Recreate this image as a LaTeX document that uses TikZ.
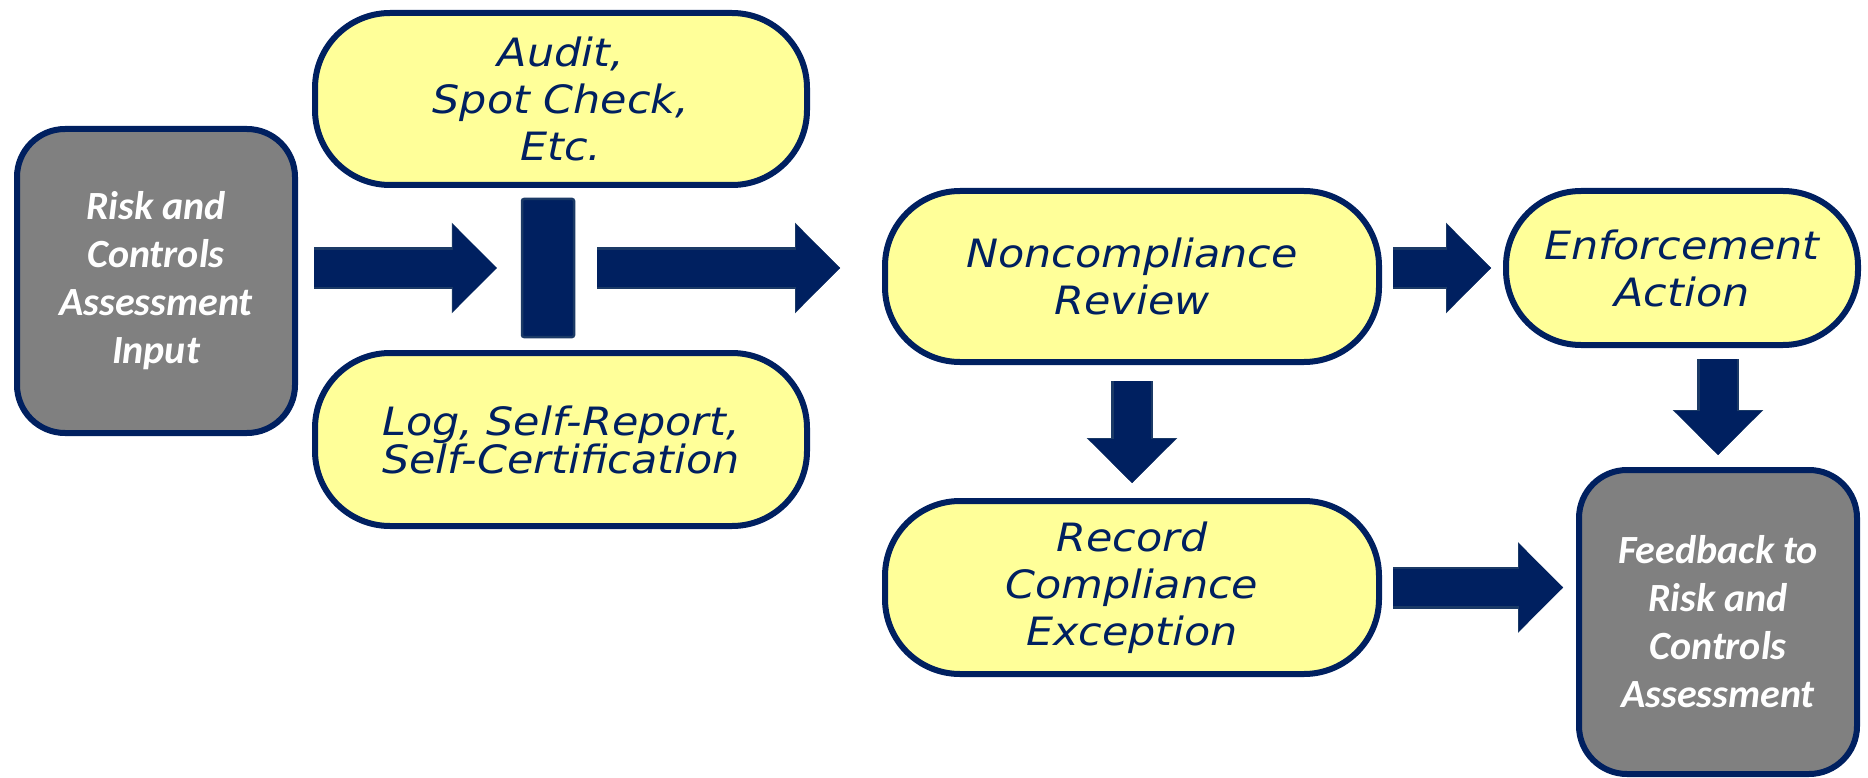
\documentclass[tikz,border=0pt]{standalone}
\usepackage{fontspec}
\usepackage{tikz}
\usetikzlibrary{arrows.meta,positioning}
\newfontfamily\stepfont{DejaVu Sans}[FakeStretch=1.1]
\newfontfamily\inputfont{Carlito}
\definecolor{navy}{HTML}{002060}
\definecolor{navyedge}{HTML}{1B3A66}
\definecolor{paleyellow}{HTML}{FFFF99}
\definecolor{boxgray}{HTML}{808080}

\begin{document}
\begin{tikzpicture}[
      x=1pt, y=-1pt,
      >={Triangle[length=44pt,width=87pt,line width=0pt,color=navy,fill=navy]},
      box/.style={draw=navy, line width=6pt, align=center, inner sep=0pt},
      term/.style={box, fill=paleyellow, text=navy, rounded corners=75pt,
                   font=\stepfont\itshape\fontsize{39}{47}\selectfont},
      ioblock/.style={box, fill=boxgray, text=white, rounded corners=48pt,
                      minimum width=278pt, minimum height=304pt,
                      font=\inputfont\bfseries\itshape\fontsize{40}{48}\selectfont},
      gate/.style={fill=navy, draw=navyedge, line width=2.5pt, rounded corners=2pt,
                   minimum width=52pt, minimum height=138pt},
      fat/.style={->, draw=navy, line width=37pt,
                  preaction={draw=navyedge, line width=42pt,
                    -{Triangle[length=45pt,width=90pt,line width=3pt,color=navyedge,fill=navyedge]}}},
    ]
    \useasboundingbox (0,0) rectangle (1868,778);

    % --- input and the two ways of checking ----------------------------------------
    \node[ioblock] (risk) at (156,281) {Risk and\\Controls\\Assessment\\Input};
    \node[term, minimum width=492pt, minimum height=172pt] (audit) at (561,99)
      {Audit,\\Spot Check,\\Etc.};
    \node[term, minimum width=492pt, minimum height=173pt, below=162pt of audit] (selfrep)
      {Log, Self-Report,\\[-9pt]Self-Certification};
    \node[gate] (bar) at (548,268) {};

    % --- review and its outcomes ---------------------------------------------------
    \node[term, minimum width=494pt, minimum height=171pt] (review) at (1132,276.5)
      {Noncompliance\\Review};
    \node[term, minimum width=494pt, minimum height=173pt, below=133pt of review] (record)
      {Record\\Compliance\\Exception};
    \node[term, minimum width=352pt, minimum height=154pt] (enforce) at (1682,268)
      {Enforcement\\Action};
    \node[ioblock] (feedback) at (1718,622) {Feedback to\\Risk and\\Controls\\Assessment};

    \draw[fat, shorten <=16pt, shorten >=24pt] (risk.east |- bar) -- (bar.west);
    \draw[fat, shorten <=22pt, shorten >=42pt] (bar.east) -- (review.west |- bar);
    \draw[fat, shorten <=11pt, shorten >=12pt] (review.east |- enforce) -- (enforce.west);
    \draw[fat, shorten <=16pt, shorten >=15pt] (review) -- (record);
    \draw[fat, shorten <=11pt, shorten >=13pt] (record.east) -- (feedback.west |- record);
    \draw[fat, shorten <=11pt, shorten >=12pt] (feedback.north |- enforce.south) -- (feedback.north);
  \end{tikzpicture}
\end{document}
